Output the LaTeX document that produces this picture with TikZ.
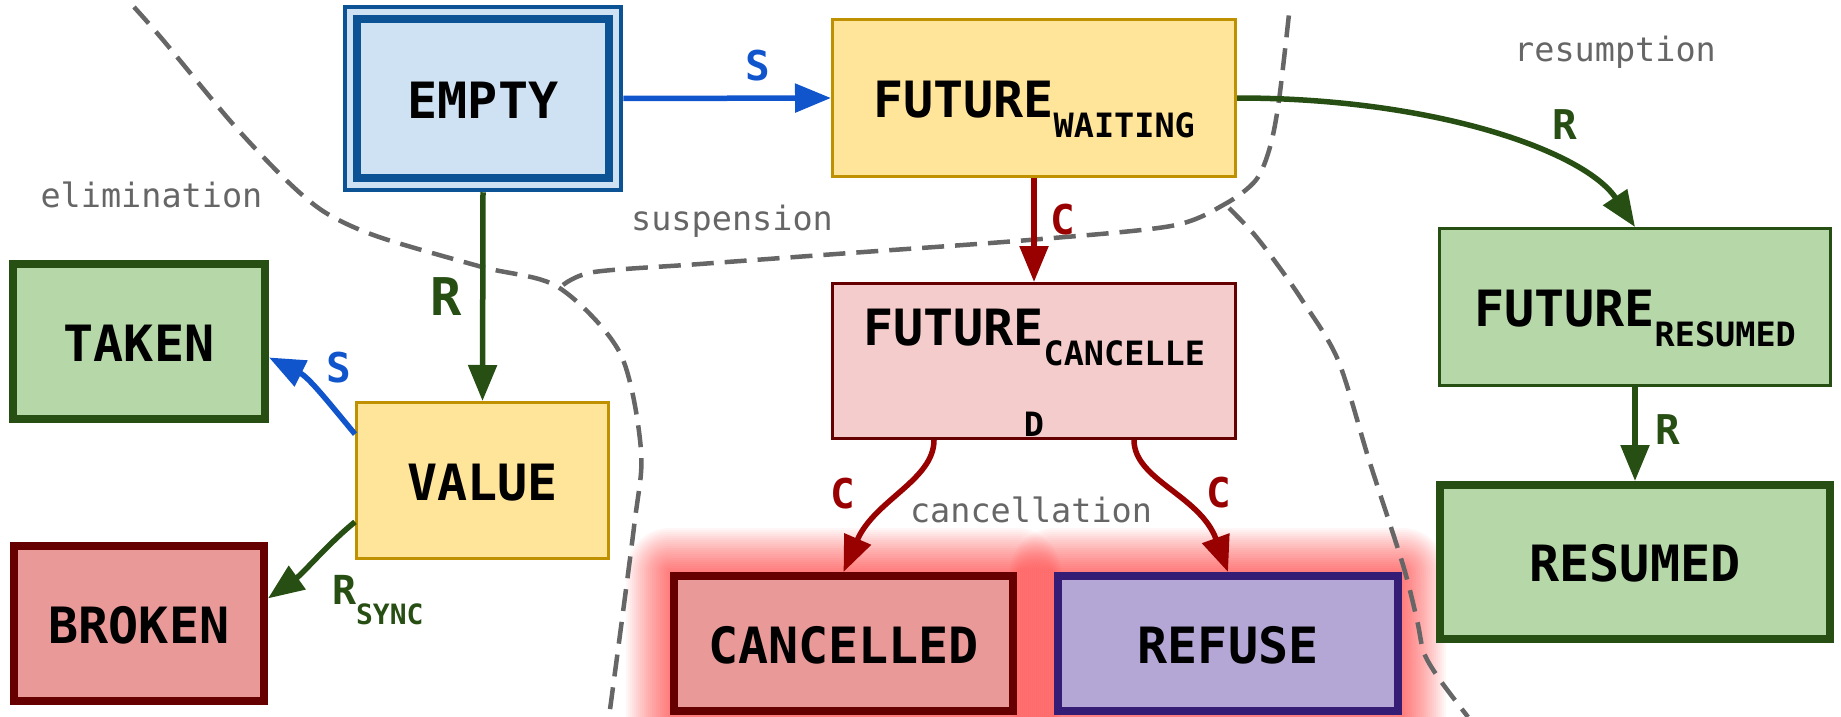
\documentclass[tikz,border=0pt]{standalone}
\usepackage{fontspec}
\setmainfont{DejaVu Sans Mono}
\usetikzlibrary{arrows.meta,calc,backgrounds}

\definecolor{emptyfill}{HTML}{CFE2F3}
\definecolor{emptyline}{HTML}{0B5394}
\definecolor{waitfill}{HTML}{FFE599}
\definecolor{waitline}{HTML}{BF9000}
\definecolor{cancfill}{HTML}{F4CCCC}
\definecolor{brokenfill}{HTML}{EA9999}
\definecolor{redline}{HTML}{660000}
\definecolor{refusefill}{HTML}{B4A7D6}
\definecolor{refuseline}{HTML}{351C75}
\definecolor{greenfill}{HTML}{B6D7A8}
\definecolor{greenline}{HTML}{274E13}
\definecolor{sendblue}{HTML}{1155CC}
\definecolor{cancred}{HTML}{990000}
\definecolor{regiongray}{HTML}{666666}
\definecolor{glowred}{HTML}{FF0000}

\newcommand{\statesub}[2][33.5]{\raisebox{-20pt}{\fontsize{#1}{#1}\selectfont #2}}

\tikzset{
  state/.style={draw, rectangle, font=\fontsize{50}{71}\selectfont\bfseries,
    text height=39pt, text depth=0pt, inner sep=0pt},
  thinstate/.style={state, line width=3pt},
  thickstate/.style={state, line width=8pt},
  trans/.style={line width=5.5pt, -{Triangle[length=36pt,width=28pt]}},
  translabel/.style={font=\fontsize{41}{41}\selectfont\bfseries, inner sep=6pt},
  region/.style={draw=regiongray, line width=4.5pt, dash pattern=on 22pt off 11pt},
  regionlabel/.style={text=regiongray, font=\fontsize{33.5}{40}\selectfont, anchor=base, inner sep=0pt}
}

\begin{document}
\begin{tikzpicture}[x=1pt,y=-1pt]
\useasboundingbox (0,0) rectangle (1841,717);

\draw[region,smooth] plot coordinates {
(134,7) (163,40) (232,123) (286,180) (326,213) (379,237)
(482,267) (558,287) (620,353) (641,450) (634,527) (609,717)
};
\draw[region,smooth] plot coordinates {
(563,285) (594,272) (700,264) (850,253) (1029,240) (1171,226)
(1225,204) (1256,180) (1270,147) (1279,100) (1290,5)
};
\draw[region,smooth] plot coordinates {
(1229,208) (1253,233) (1274,260) (1302,300) (1338,360) (1369,460)
(1403,565) (1417,620) (1424,653) (1440,680) (1468,717)
};

\node[regionlabel] (elim) at (151.5,207) {elimination};
\node[regionlabel] (susp) at (732,230) {suspension};
\node[regionlabel] (resum) at (1615,62) {resumption};
\node[regionlabel] (canc) at (1031,522) {cancellation};

\node[state, line width=4.5pt, draw=emptyline, fill=emptyfill, minimum width=276pt, minimum height=183pt] (empty) at (483,98.5) {EMPTY};
\draw[emptyline, line width=8pt] ($(empty.south west)+(14,-14)$) rectangle ($(empty.north east)+(-14,14)$);
\node[thinstate, draw=waitline, fill=waitfill, minimum width=403pt, minimum height=157pt] (fw) at (1034,98) {FUTURE\statesub{WAITING}};
\node[thinstate, draw=redline, fill=cancfill, minimum width=403pt, minimum height=155pt, align=center, text height=110pt] (fc) at (1034,361) {FUTURE\statesub{CANCELLE}\\\statesub{D}};
\node[thinstate, draw=waitline, fill=waitfill, minimum width=252pt, minimum height=156pt] (value) at (482.5,480.5) {VALUE};
\node[thinstate, draw=greenline, fill=greenfill, minimum width=391pt, minimum height=157pt] (fr) at (1635,307) {FUTURE\statesub{RESUMED}};
\node[thickstate, draw=greenline, fill=greenfill, minimum width=252pt, minimum height=155pt] (taken) at (139,341.5) {TAKEN};
\node[thickstate, draw=redline, fill=brokenfill, minimum width=250pt, minimum height=155pt] (broken) at (139,623.5) {BROKEN};
\node[thickstate, draw=redline, fill=brokenfill, minimum width=339pt, minimum height=135pt] (cancelled) at (843.5,643.5) {CANCELLED};
\node[thickstate, draw=refuseline, fill=refusefill, minimum width=340pt, minimum height=135pt] (refuse) at (1228,643.5) {REFUSE};
\node[thickstate, draw=greenline, fill=greenfill, minimum width=390pt, minimum height=154pt] (resumed) at (1635,562) {RESUMED};

\begin{scope}[on background layer]
\foreach \g [evaluate=\g as \d using \g*2] in {1,...,22} {
  \fill[glowred, opacity=0.03, rounded corners=\d pt]
    ($(cancelled.south west)+(-\d,\d)$) rectangle ($(cancelled.north east)+(\d,-\d)$);
  \fill[glowred, opacity=0.03, rounded corners=\d pt]
    ($(refuse.south west)+(-\d,\d)$) rectangle ($(refuse.north east)+(\d,-\d)$);
}
\end{scope}

\draw[trans, sendblue] (empty.east) -- (fw.west) node[pos=0.65, above=8pt, translabel, text=sendblue] (s1) {S};
\draw[trans, greenline] (empty.south) -- (value.north) node[midway, left=12pt, translabel, text=greenline, font=\fontsize{52}{52}\selectfont\bfseries] (r1) {R};
\draw[trans, cancred] (fw.south) -- (fc.north) node[pos=0.4, right=8pt, translabel, text=cancred] (c1) {C};
\draw[trans, greenline] (fw.east) .. controls +(200,0) and +(-50,-75) .. (fr.north) node[pos=0.7, above=18pt, translabel, text=greenline] (r2) {R};
\draw[trans, greenline] (fr.south) -- (resumed.north) node[pos=0.45, right=12pt, translabel, text=greenline] (r3) {R};
\draw[trans, sendblue] (value.160) .. controls +(-25,-30) and +(40,20) .. (taken.-7) node[pos=0.5, above right, translabel, text=sendblue] (s2) {S};
\draw[trans, greenline] (value.198) .. controls +(-25,20) and +(35,-25) .. (broken.11) node[pos=0.5, below right=8pt, translabel, text=greenline, font=\fontsize{40}{40}\selectfont\bfseries] (rsync) {R\statesub[28]{SYNC}};
\draw[trans, cancred] ($(fc.south)+(-100,0)$) .. controls +(0,40) and +(31,-72) .. (cancelled.north) node[pos=0.5, left=36pt, translabel, text=cancred] (c2) {C};
\draw[trans, cancred] ($(fc.south)+(100,0)$) .. controls +(0,40) and +(-28,-77) .. (refuse.north) node[pos=0.5, right=27pt, translabel, text=cancred] (c3) {C};
\end{tikzpicture}
\end{document}
